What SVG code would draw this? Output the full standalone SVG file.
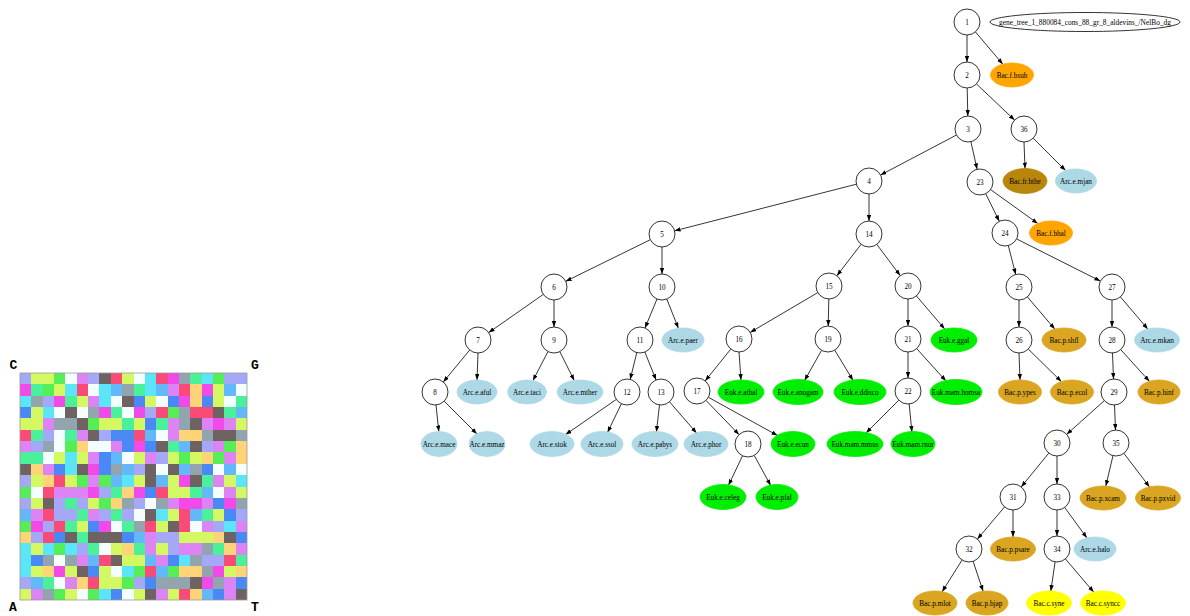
<svg xmlns="http://www.w3.org/2000/svg" width="1190" height="616" viewBox="0 0 1190 616">
<style>
.L{fill:#a4a8f6}.Y{fill:#d4f862}.G{fill:#56ee56}.W{fill:#f4fefe}.V{fill:#dc84f4}.D{fill:#6e6262}.R{fill:#f94a78}.C{fill:#5ae6f8}.M{fill:#f24ae8}.S{fill:#92a4ae}.N{fill:#4af09a}.B{fill:#62b8f8}.O{fill:#ffd478}.U{fill:#4a88f6}
#grid rect{shape-rendering:crispEdges}
.corner{font-family:"Liberation Mono",monospace;font-weight:bold;font-size:13px;text-anchor:middle;fill:#000}
.nd circle{fill:#fff;stroke:#000;stroke-width:0.8}
.lf ellipse{stroke-width:0.8}
.arc{fill:#add8e6;stroke:#add8e6}
.euk{fill:#00ee00;stroke:#00ee00}
.bf{fill:#ffa500;stroke:#ffa500}
.bfr{fill:#b8860b;stroke:#b8860b}
.bp{fill:#daa520;stroke:#daa520}
.bc{fill:#ffff00;stroke:#ffff00}
.t{font-family:"Liberation Serif",serif;font-size:7.2px;text-anchor:middle;fill:#000}
#edges line{stroke:#000;stroke-width:0.8;marker-end:url(#ah)}
</style>
<defs>
<marker id="ah" markerUnits="userSpaceOnUse" markerWidth="6" markerHeight="5" refX="6" refY="2.2" orient="auto"><path d="M0,0 L6,2.2 L0,4.4 z" fill="#000"/></marker>
</defs>
<rect width="1190" height="616" fill="#fff"/>

<g id="grid" transform="translate(20,373) scale(11.35)">
<g transform="translate(0,0)"><rect x="0" width="1.05" height="1.05" class="L"/><rect x="1" width="2.05" height="1.05" class="Y"/><rect x="3" width="1.05" height="1.05" class="G"/><rect x="4" width="1.05" height="1.05" class="W"/><rect x="5" width="1.05" height="1.05" class="V"/><rect x="6" width="1.05" height="1.05" class="L"/><rect x="7" width="1.05" height="1.05" class="D"/><rect x="8" width="1.05" height="1.05" class="R"/><rect x="9" width="1.05" height="1.05" class="Y"/><rect x="10" width="1.05" height="1.05" class="W"/><rect x="11" width="1.05" height="1.05" class="C"/><rect x="12" width="1.05" height="1.05" class="R"/><rect x="13" width="1.05" height="1.05" class="M"/><rect x="14" width="1.05" height="1.05" class="S"/><rect x="15" width="1.05" height="1.05" class="N"/><rect x="16" width="1.05" height="1.05" class="C"/><rect x="17" width="1.05" height="1.05" class="G"/><rect x="18" width="2" height="1.05" class="L"/></g>
<g transform="translate(0,1)"><rect x="0" width="1.05" height="1.05" class="M"/><rect x="1" width="1.05" height="1.05" class="N"/><rect x="2" width="1.05" height="1.05" class="G"/><rect x="3" width="1.05" height="1.05" class="Y"/><rect x="4" width="1.05" height="1.05" class="C"/><rect x="5" width="1.05" height="1.05" class="R"/><rect x="6" width="1.05" height="1.05" class="W"/><rect x="7" width="1.05" height="1.05" class="C"/><rect x="8" width="1.05" height="1.05" class="B"/><rect x="9" width="1.05" height="1.05" class="S"/><rect x="10" width="1.05" height="1.05" class="N"/><rect x="11" width="1.05" height="1.05" class="C"/><rect x="12" width="1.05" height="1.05" class="B"/><rect x="13" width="1.05" height="1.05" class="V"/><rect x="14" width="1.05" height="1.05" class="R"/><rect x="15" width="1.05" height="1.05" class="O"/><rect x="16" width="1.05" height="1.05" class="M"/><rect x="17" width="1.05" height="1.05" class="Y"/><rect x="18" width="1.05" height="1.05" class="B"/><rect x="19" width="1" height="1.05" class="W"/></g>
<g transform="translate(0,2)"><rect x="0" width="1.05" height="1.05" class="C"/><rect x="1" width="1.05" height="1.05" class="S"/><rect x="2" width="1.05" height="1.05" class="L"/><rect x="3" width="1.05" height="1.05" class="M"/><rect x="4" width="1.05" height="1.05" class="N"/><rect x="5" width="1.05" height="1.05" class="Y"/><rect x="6" width="1.05" height="1.05" class="V"/><rect x="7" width="1.05" height="1.05" class="C"/><rect x="8" width="1.05" height="1.05" class="W"/><rect x="9" width="1.05" height="1.05" class="D"/><rect x="10" width="1.05" height="1.05" class="U"/><rect x="11" width="1.05" height="1.05" class="Y"/><rect x="12" width="1.05" height="1.05" class="W"/><rect x="13" width="1.05" height="1.05" class="U"/><rect x="14" width="1.05" height="1.05" class="M"/><rect x="15" width="1.05" height="1.05" class="O"/><rect x="16" width="1.05" height="1.05" class="U"/><rect x="17" width="1.05" height="1.05" class="Y"/><rect x="18" width="1.05" height="1.05" class="W"/><rect x="19" width="1" height="1.05" class="N"/></g>
<g transform="translate(0,3)"><rect x="0" width="1.05" height="1.05" class="U"/><rect x="1" width="1.05" height="1.05" class="Y"/><rect x="2" width="1.05" height="1.05" class="C"/><rect x="3" width="1.05" height="1.05" class="W"/><rect x="4" width="1.05" height="1.05" class="D"/><rect x="5" width="1.05" height="1.05" class="W"/><rect x="6" width="1.05" height="1.05" class="S"/><rect x="7" width="1.05" height="1.05" class="M"/><rect x="8" width="1.05" height="1.05" class="N"/><rect x="9" width="1.05" height="1.05" class="W"/><rect x="10" width="1.05" height="1.05" class="M"/><rect x="11" width="1.05" height="1.05" class="L"/><rect x="12" width="1.05" height="1.05" class="R"/><rect x="13" width="1.05" height="1.05" class="G"/><rect x="14" width="1.05" height="1.05" class="S"/><rect x="15" width="2.05" height="1.05" class="R"/><rect x="17" width="1.05" height="1.05" class="D"/><rect x="18" width="1.05" height="1.05" class="N"/><rect x="19" width="1" height="1.05" class="B"/></g>
<g transform="translate(0,4)"><rect x="0" width="2.05" height="1.05" class="Y"/><rect x="2" width="1.05" height="1.05" class="V"/><rect x="3" width="2.05" height="1.05" class="S"/><rect x="5" width="1.05" height="1.05" class="D"/><rect x="6" width="1.05" height="1.05" class="G"/><rect x="7" width="2.05" height="1.05" class="Y"/><rect x="9" width="1.05" height="1.05" class="N"/><rect x="10" width="1.05" height="1.05" class="Y"/><rect x="11" width="1.05" height="1.05" class="U"/><rect x="12" width="1.05" height="1.05" class="N"/><rect x="13" width="1.05" height="1.05" class="V"/><rect x="14" width="1.05" height="1.05" class="S"/><rect x="15" width="1.05" height="1.05" class="D"/><rect x="16" width="1.05" height="1.05" class="V"/><rect x="17" width="1.05" height="1.05" class="M"/><rect x="18" width="1.05" height="1.05" class="V"/><rect x="19" width="1" height="1.05" class="Y"/></g>
<g transform="translate(0,5)"><rect x="0" width="1.05" height="1.05" class="R"/><rect x="1" width="1.05" height="1.05" class="N"/><rect x="2" width="1.05" height="1.05" class="L"/><rect x="3" width="1.05" height="1.05" class="W"/><rect x="4" width="1.05" height="1.05" class="N"/><rect x="5" width="1.05" height="1.05" class="V"/><rect x="6" width="1.05" height="1.05" class="D"/><rect x="7" width="1.05" height="1.05" class="L"/><rect x="8" width="2.05" height="1.05" class="U"/><rect x="10" width="1.05" height="1.05" class="R"/><rect x="11" width="1.05" height="1.05" class="B"/><rect x="12" width="1.05" height="1.05" class="W"/><rect x="13" width="1.05" height="1.05" class="V"/><rect x="14" width="2.05" height="1.05" class="O"/><rect x="16" width="1.05" height="1.05" class="S"/><rect x="17" width="2.05" height="1.05" class="D"/><rect x="19" width="1" height="1.05" class="S"/></g>
<g transform="translate(0,6)"><rect x="0" width="1.05" height="1.05" class="V"/><rect x="1" width="1.05" height="1.05" class="L"/><rect x="2" width="1.05" height="1.05" class="S"/><rect x="3" width="1.05" height="1.05" class="W"/><rect x="4" width="1.05" height="1.05" class="G"/><rect x="5" width="1.05" height="1.05" class="O"/><rect x="6" width="2.05" height="1.05" class="W"/><rect x="8" width="1.05" height="1.05" class="V"/><rect x="9" width="1.05" height="1.05" class="U"/><rect x="10" width="1.05" height="1.05" class="M"/><rect x="11" width="1.05" height="1.05" class="U"/><rect x="12" width="1.05" height="1.05" class="D"/><rect x="13" width="1.05" height="1.05" class="N"/><rect x="14" width="1.05" height="1.05" class="B"/><rect x="15" width="1.05" height="1.05" class="D"/><rect x="16" width="1.05" height="1.05" class="L"/><rect x="17" width="1.05" height="1.05" class="V"/><rect x="18" width="1.05" height="1.05" class="G"/><rect x="19" width="1" height="1.05" class="O"/></g>
<g transform="translate(0,7)"><rect x="0" width="2.05" height="1.05" class="N"/><rect x="2" width="1.05" height="1.05" class="W"/><rect x="3" width="1.05" height="1.05" class="Y"/><rect x="4" width="1.05" height="1.05" class="C"/><rect x="5" width="1.05" height="1.05" class="Y"/><rect x="6" width="1.05" height="1.05" class="V"/><rect x="7" width="1.05" height="1.05" class="U"/><rect x="8" width="1.05" height="1.05" class="B"/><rect x="9" width="1.05" height="1.05" class="W"/><rect x="10" width="1.05" height="1.05" class="Y"/><rect x="11" width="1.05" height="1.05" class="V"/><rect x="12" width="1.05" height="1.05" class="L"/><rect x="13" width="1.05" height="1.05" class="Y"/><rect x="14" width="1.05" height="1.05" class="G"/><rect x="15" width="1.05" height="1.05" class="Y"/><rect x="16" width="1.05" height="1.05" class="O"/><rect x="17" width="1.05" height="1.05" class="G"/><rect x="18" width="1.05" height="1.05" class="V"/><rect x="19" width="1" height="1.05" class="O"/></g>
<g transform="translate(0,8)"><rect x="0" width="1.05" height="1.05" class="D"/><rect x="1" width="1.05" height="1.05" class="O"/><rect x="2" width="1.05" height="1.05" class="V"/><rect x="3" width="1.05" height="1.05" class="U"/><rect x="4" width="1.05" height="1.05" class="C"/><rect x="5" width="1.05" height="1.05" class="D"/><rect x="6" width="1.05" height="1.05" class="M"/><rect x="7" width="1.05" height="1.05" class="U"/><rect x="8" width="1.05" height="1.05" class="S"/><rect x="9" width="1.05" height="1.05" class="B"/><rect x="10" width="1.05" height="1.05" class="L"/><rect x="11" width="1.05" height="1.05" class="D"/><rect x="12" width="1.05" height="1.05" class="W"/><rect x="13" width="1.05" height="1.05" class="D"/><rect x="14" width="1.05" height="1.05" class="B"/><rect x="15" width="1.05" height="1.05" class="S"/><rect x="16" width="1.05" height="1.05" class="U"/><rect x="17" width="1.05" height="1.05" class="W"/><rect x="18" width="1.05" height="1.05" class="B"/><rect x="19" width="1" height="1.05" class="W"/></g>
<g transform="translate(0,9)"><rect x="0" width="1.05" height="1.05" class="L"/><rect x="1" width="1.05" height="1.05" class="Y"/><rect x="2" width="1.05" height="1.05" class="O"/><rect x="3" width="1.05" height="1.05" class="R"/><rect x="4" width="1.05" height="1.05" class="Y"/><rect x="5" width="1.05" height="1.05" class="G"/><rect x="6" width="1.05" height="1.05" class="V"/><rect x="7" width="1.05" height="1.05" class="G"/><rect x="8" width="1.05" height="1.05" class="B"/><rect x="9" width="1.05" height="1.05" class="C"/><rect x="10" width="1.05" height="1.05" class="Y"/><rect x="11" width="1.05" height="1.05" class="D"/><rect x="12" width="1.05" height="1.05" class="B"/><rect x="13" width="1.05" height="1.05" class="Y"/><rect x="14" width="1.05" height="1.05" class="M"/><rect x="15" width="1.05" height="1.05" class="D"/><rect x="16" width="1.05" height="1.05" class="N"/><rect x="17" width="1.05" height="1.05" class="V"/><rect x="18" width="1.05" height="1.05" class="Y"/><rect x="19" width="1" height="1.05" class="C"/></g>
<g transform="translate(0,10)"><rect x="0" width="1.05" height="1.05" class="G"/><rect x="1" width="1.05" height="1.05" class="W"/><rect x="2" width="1.05" height="1.05" class="R"/><rect x="3" width="3.05" height="1.05" class="V"/><rect x="6" width="1.05" height="1.05" class="M"/><rect x="7" width="1.05" height="1.05" class="L"/><rect x="8" width="1.05" height="1.05" class="N"/><rect x="9" width="1.05" height="1.05" class="O"/><rect x="10" width="1.05" height="1.05" class="M"/><rect x="11" width="1.05" height="1.05" class="U"/><rect x="12" width="1.05" height="1.05" class="R"/><rect x="13" width="2.05" height="1.05" class="Y"/><rect x="15" width="1.05" height="1.05" class="N"/><rect x="16" width="1.05" height="1.05" class="B"/><rect x="17" width="1.05" height="1.05" class="W"/><rect x="18" width="1.05" height="1.05" class="V"/><rect x="19" width="1" height="1.05" class="Y"/></g>
<g transform="translate(0,11)"><rect x="0" width="1.05" height="1.05" class="L"/><rect x="1" width="1.05" height="1.05" class="Y"/><rect x="2" width="1.05" height="1.05" class="D"/><rect x="3" width="1.05" height="1.05" class="L"/><rect x="4" width="1.05" height="1.05" class="N"/><rect x="5" width="1.05" height="1.05" class="L"/><rect x="6" width="1.05" height="1.05" class="Y"/><rect x="7" width="1.05" height="1.05" class="G"/><rect x="8" width="1.05" height="1.05" class="O"/><rect x="9" width="1.05" height="1.05" class="S"/><rect x="10" width="1.05" height="1.05" class="L"/><rect x="11" width="1.05" height="1.05" class="W"/><rect x="12" width="1.05" height="1.05" class="S"/><rect x="13" width="1.05" height="1.05" class="V"/><rect x="14" width="2.05" height="1.05" class="M"/><rect x="16" width="1.05" height="1.05" class="V"/><rect x="17" width="1.05" height="1.05" class="U"/><rect x="18" width="1.05" height="1.05" class="M"/><rect x="19" width="1" height="1.05" class="S"/></g>
<g transform="translate(0,12)"><rect x="0" width="1.05" height="1.05" class="B"/><rect x="1" width="1.05" height="1.05" class="V"/><rect x="2" width="1.05" height="1.05" class="R"/><rect x="3" width="2.05" height="1.05" class="L"/><rect x="5" width="1.05" height="1.05" class="N"/><rect x="6" width="1.05" height="1.05" class="V"/><rect x="7" width="1.05" height="1.05" class="L"/><rect x="8" width="1.05" height="1.05" class="N"/><rect x="9" width="1.05" height="1.05" class="L"/><rect x="10" width="1.05" height="1.05" class="W"/><rect x="11" width="1.05" height="1.05" class="D"/><rect x="12" width="1.05" height="1.05" class="C"/><rect x="13" width="1.05" height="1.05" class="Y"/><rect x="14" width="1.05" height="1.05" class="R"/><rect x="15" width="1.05" height="1.05" class="B"/><rect x="16" width="1.05" height="1.05" class="N"/><rect x="17" width="1.05" height="1.05" class="Y"/><rect x="18" width="1.05" height="1.05" class="U"/><rect x="19" width="1" height="1.05" class="L"/></g>
<g transform="translate(0,13)"><rect x="0" width="1.05" height="1.05" class="G"/><rect x="1" width="1.05" height="1.05" class="M"/><rect x="2" width="1.05" height="1.05" class="L"/><rect x="3" width="1.05" height="1.05" class="R"/><rect x="4" width="1.05" height="1.05" class="N"/><rect x="5" width="1.05" height="1.05" class="Y"/><rect x="6" width="1.05" height="1.05" class="U"/><rect x="7" width="1.05" height="1.05" class="M"/><rect x="8" width="1.05" height="1.05" class="W"/><rect x="9" width="1.05" height="1.05" class="N"/><rect x="10" width="1.05" height="1.05" class="S"/><rect x="11" width="1.05" height="1.05" class="R"/><rect x="12" width="1.05" height="1.05" class="Y"/><rect x="13" width="1.05" height="1.05" class="D"/><rect x="14" width="1.05" height="1.05" class="R"/><rect x="15" width="1.05" height="1.05" class="W"/><rect x="16" width="1.05" height="1.05" class="V"/><rect x="17" width="1.05" height="1.05" class="L"/><rect x="18" width="1.05" height="1.05" class="C"/><rect x="19" width="1" height="1.05" class="V"/></g>
<g transform="translate(0,14)"><rect x="0" width="1.05" height="1.05" class="O"/><rect x="1" width="1.05" height="1.05" class="L"/><rect x="2" width="1.05" height="1.05" class="R"/><rect x="3" width="1.05" height="1.05" class="U"/><rect x="4" width="1.05" height="1.05" class="D"/><rect x="5" width="1.05" height="1.05" class="N"/><rect x="6" width="3.05" height="1.05" class="D"/><rect x="9" width="1.05" height="1.05" class="U"/><rect x="10" width="1.05" height="1.05" class="B"/><rect x="11" width="1.05" height="1.05" class="V"/><rect x="12" width="2.05" height="1.05" class="L"/><rect x="14" width="3.05" height="1.05" class="Y"/><rect x="17" width="1.05" height="1.05" class="O"/><rect x="18" width="1.05" height="1.05" class="D"/><rect x="19" width="1" height="1.05" class="U"/></g>
<g transform="translate(0,15)"><rect x="0" width="1.05" height="1.05" class="C"/><rect x="1" width="1.05" height="1.05" class="Y"/><rect x="2" width="1.05" height="1.05" class="C"/><rect x="3" width="1.05" height="1.05" class="G"/><rect x="4" width="1.05" height="1.05" class="C"/><rect x="5" width="1.05" height="1.05" class="L"/><rect x="6" width="1.05" height="1.05" class="N"/><rect x="7" width="1.05" height="1.05" class="W"/><rect x="8" width="1.05" height="1.05" class="Y"/><rect x="9" width="1.05" height="1.05" class="O"/><rect x="10" width="1.05" height="1.05" class="N"/><rect x="11" width="1.05" height="1.05" class="V"/><rect x="12" width="1.05" height="1.05" class="Y"/><rect x="13" width="1.05" height="1.05" class="L"/><rect x="14" width="2.05" height="1.05" class="V"/><rect x="16" width="1.05" height="1.05" class="S"/><rect x="17" width="1.05" height="1.05" class="N"/><rect x="18" width="1.05" height="1.05" class="O"/><rect x="19" width="1" height="1.05" class="V"/></g>
<g transform="translate(0,16)"><rect x="0" width="1.05" height="1.05" class="C"/><rect x="1" width="1.05" height="1.05" class="U"/><rect x="2" width="1.05" height="1.05" class="S"/><rect x="3" width="1.05" height="1.05" class="W"/><rect x="4" width="1.05" height="1.05" class="S"/><rect x="5" width="1.05" height="1.05" class="V"/><rect x="6" width="1.05" height="1.05" class="B"/><rect x="7" width="1.05" height="1.05" class="R"/><rect x="8" width="1.05" height="1.05" class="D"/><rect x="9" width="2.05" height="1.05" class="Y"/><rect x="11" width="1.05" height="1.05" class="B"/><rect x="12" width="1.05" height="1.05" class="V"/><rect x="13" width="1.05" height="1.05" class="U"/><rect x="14" width="1.05" height="1.05" class="C"/><rect x="15" width="1.05" height="1.05" class="S"/><rect x="16" width="2.05" height="1.05" class="L"/><rect x="18" width="1.05" height="1.05" class="R"/><rect x="19" width="1" height="1.05" class="N"/></g>
<g transform="translate(0,17)"><rect x="0" width="1.05" height="1.05" class="C"/><rect x="1" width="1.05" height="1.05" class="Y"/><rect x="2" width="1.05" height="1.05" class="O"/><rect x="3" width="1.05" height="1.05" class="M"/><rect x="4" width="1.05" height="1.05" class="Y"/><rect x="5" width="1.05" height="1.05" class="D"/><rect x="6" width="1.05" height="1.05" class="U"/><rect x="7" width="1.05" height="1.05" class="Y"/><rect x="8" width="1.05" height="1.05" class="W"/><rect x="9" width="1.05" height="1.05" class="C"/><rect x="10" width="1.05" height="1.05" class="G"/><rect x="11" width="1.05" height="1.05" class="R"/><rect x="12" width="1.05" height="1.05" class="B"/><rect x="13" width="1.05" height="1.05" class="G"/><rect x="14" width="2.05" height="1.05" class="O"/><rect x="16" width="1.05" height="1.05" class="S"/><rect x="17" width="1.05" height="1.05" class="M"/><rect x="18" width="1.05" height="1.05" class="Y"/><rect x="19" width="1" height="1.05" class="O"/></g>
<g transform="translate(0,18)"><rect x="0" width="1.05" height="1.05" class="L"/><rect x="1" width="1.05" height="1.05" class="B"/><rect x="2" width="1.05" height="1.05" class="N"/><rect x="3" width="1.05" height="1.05" class="W"/><rect x="4" width="1.05" height="1.05" class="V"/><rect x="5" width="1.05" height="1.05" class="O"/><rect x="6" width="1.05" height="1.05" class="R"/><rect x="7" width="2.05" height="1.05" class="Y"/><rect x="9" width="1.05" height="1.05" class="G"/><rect x="10" width="1.05" height="1.05" class="L"/><rect x="11" width="1.05" height="1.05" class="U"/><rect x="12" width="3.05" height="1.05" class="S"/><rect x="15" width="1.05" height="1.05" class="D"/><rect x="16" width="1.05" height="1.05" class="M"/><rect x="17" width="1.05" height="1.05" class="S"/><rect x="18" width="1.05" height="1.05" class="V"/><rect x="19" width="1" height="1.05" class="U"/></g>
<g transform="translate(0,19)"><rect x="0" width="1.05" height="1" class="Y"/><rect x="1" width="1.05" height="1" class="V"/><rect x="2" width="1.05" height="1" class="S"/><rect x="3" width="1.05" height="1" class="G"/><rect x="4" width="1.05" height="1" class="Y"/><rect x="5" width="1.05" height="1" class="W"/><rect x="6" width="1.05" height="1" class="G"/><rect x="7" width="1.05" height="1" class="C"/><rect x="8" width="1.05" height="1" class="U"/><rect x="9" width="1.05" height="1" class="W"/><rect x="10" width="1.05" height="1" class="Y"/><rect x="11" width="1.05" height="1" class="D"/><rect x="12" width="1.05" height="1" class="V"/><rect x="13" width="1.05" height="1" class="Y"/><rect x="14" width="1.05" height="1" class="R"/><rect x="15" width="1.05" height="1" class="O"/><rect x="16" width="1.05" height="1" class="B"/><rect x="17" width="1.05" height="1" class="U"/><rect x="18" width="1.05" height="1" class="V"/><rect x="19" width="1" height="1" class="D"/></g>
</g>
<rect x="20" y="373" width="227" height="227" fill="none" stroke="#9a9a9a" stroke-width="0.8"/>
<g id="corners">
<text class="corner" x="13.5" y="369">C</text>
<text class="corner" x="255" y="369">G</text>
<text class="corner" x="13" y="611">A</text>
<text class="corner" x="255" y="611">T</text>
</g>

<g id="edges">
<line x1="967" y1="35" x2="967" y2="62"/>
<line x1="975.4" y1="31.9" x2="1002.8" y2="64.2"/>
<line x1="967.2" y1="88" x2="967.8" y2="116"/>
<line x1="976.4" y1="83.9" x2="1014.6" y2="120.1"/>
<line x1="956.5" y1="135" x2="880.5" y2="175"/>
<line x1="970.9" y1="141.7" x2="977.1" y2="169.3"/>
<line x1="1024" y1="142" x2="1025" y2="168.5"/>
<line x1="1033.2" y1="138.2" x2="1065.6" y2="170.6"/>
<line x1="856.4" y1="184.2" x2="674.6" y2="230.8"/>
<line x1="869" y1="194" x2="869" y2="221"/>
<line x1="985.7" y1="193.7" x2="999.3" y2="221.3"/>
<line x1="990.6" y1="189.6" x2="1037.8" y2="223.5"/>
<line x1="650.3" y1="239.7" x2="565.7" y2="281.3"/>
<line x1="662" y1="247" x2="662" y2="274"/>
<line x1="861.1" y1="244.3" x2="836.9" y2="275.7"/>
<line x1="876.8" y1="244.4" x2="900.2" y2="275.6"/>
<line x1="1008.3" y1="245.6" x2="1015.7" y2="274.4"/>
<line x1="1016.6" y1="238.9" x2="1100.4" y2="281.1"/>
<line x1="543.3" y1="294.4" x2="488.7" y2="332.6"/>
<line x1="554" y1="300" x2="554" y2="327"/>
<line x1="657" y1="299" x2="645" y2="328"/>
<line x1="666.8" y1="299.1" x2="678.4" y2="328.3"/>
<line x1="817.8" y1="292.6" x2="750.2" y2="332.4"/>
<line x1="828.8" y1="299" x2="828.2" y2="326"/>
<line x1="908" y1="299" x2="908" y2="326"/>
<line x1="916.4" y1="295.9" x2="944.7" y2="329"/>
<line x1="1019" y1="300" x2="1019" y2="327"/>
<line x1="1027.4" y1="296.9" x2="1054.8" y2="329.1"/>
<line x1="1112" y1="300" x2="1112" y2="327"/>
<line x1="1120.4" y1="296.9" x2="1147.8" y2="329.1"/>
<line x1="469.7" y1="350" x2="443.3" y2="382"/>
<line x1="478" y1="353" x2="477" y2="380"/>
<line x1="548" y1="351.5" x2="532.9" y2="380.6"/>
<line x1="559.8" y1="351.6" x2="574.2" y2="380.4"/>
<line x1="636.8" y1="352.6" x2="630.2" y2="379.4"/>
<line x1="644.9" y1="352.1" x2="656.1" y2="380"/>
<line x1="730.8" y1="349.1" x2="705.2" y2="380.9"/>
<line x1="739" y1="352" x2="741" y2="380"/>
<line x1="821.6" y1="350.3" x2="804.6" y2="380.4"/>
<line x1="834.7" y1="350.1" x2="853" y2="380.4"/>
<line x1="908" y1="352" x2="908" y2="378"/>
<line x1="916.7" y1="348.6" x2="946" y2="381"/>
<line x1="1019" y1="353" x2="1020" y2="380"/>
<line x1="1028.3" y1="349.1" x2="1061.4" y2="381.6"/>
<line x1="1112.5" y1="353" x2="1113.5" y2="379"/>
<line x1="1120.7" y1="349.6" x2="1149.4" y2="381.3"/>
<line x1="436" y1="405" x2="438.8" y2="431.5"/>
<line x1="444.2" y1="401.2" x2="477" y2="434"/>
<line x1="616.3" y1="399.4" x2="565.6" y2="434.6"/>
<line x1="621.4" y1="403.7" x2="607.5" y2="432.5"/>
<line x1="659.5" y1="405" x2="656.4" y2="432"/>
<line x1="669.5" y1="401.8" x2="696.6" y2="433.1"/>
<line x1="706" y1="400.4" x2="739" y2="434.6"/>
<line x1="708.4" y1="397.3" x2="777.5" y2="435.5"/>
<line x1="898.8" y1="400.2" x2="866" y2="433"/>
<line x1="909.2" y1="404" x2="911.9" y2="432"/>
<line x1="1104.3" y1="400.7" x2="1066.7" y2="434.3"/>
<line x1="1114.5" y1="405" x2="1115.5" y2="430"/>
<line x1="742.5" y1="455.8" x2="728.5" y2="485.3"/>
<line x1="754.2" y1="455.4" x2="770.7" y2="485.5"/>
<line x1="1048.8" y1="453.1" x2="1021.2" y2="486.9"/>
<line x1="1057" y1="456" x2="1057" y2="484"/>
<line x1="1113" y1="455.6" x2="1105.8" y2="486.1"/>
<line x1="1123.9" y1="453.3" x2="1149.5" y2="486.9"/>
<line x1="1004.6" y1="506.9" x2="977.4" y2="539.1"/>
<line x1="1013" y1="510" x2="1013" y2="537"/>
<line x1="1057" y1="510" x2="1057" y2="536"/>
<line x1="1064.7" y1="507.5" x2="1086.9" y2="537.9"/>
<line x1="962.1" y1="560" x2="942.1" y2="591.7"/>
<line x1="973.1" y1="561.3" x2="983.1" y2="591.2"/>
<line x1="1055.1" y1="561.9" x2="1050.8" y2="591.1"/>
<line x1="1065.4" y1="558.9" x2="1093.7" y2="592.1"/>
</g>

<g id="graph-label"><ellipse cx="1085" cy="22" rx="95" ry="9.5" fill="#fff" stroke="#000" stroke-width="0.8"/><text class="t" x="1085" y="24.5" textLength="172" lengthAdjust="spacingAndGlyphs">gene_tree_1_880084_cons_88_gr_8_aldevins_/NelBo_dg</text></g>

<g id="n1" class="nd"><circle cx="967" cy="22" r="13"/><text class="t" x="967" y="24.5">1</text></g>
<g id="n2" class="nd"><circle cx="967" cy="75" r="13"/><text class="t" x="967" y="77.5">2</text></g>
<g id="n3" class="nd"><circle cx="968" cy="129" r="13"/><text class="t" x="968" y="131.5">3</text></g>
<g id="n36" class="nd"><circle cx="1024" cy="129" r="13"/><text class="t" x="1024" y="131.5">36</text></g>
<g id="n4" class="nd"><circle cx="869" cy="181" r="13"/><text class="t" x="869" y="183.5">4</text></g>
<g id="n23" class="nd"><circle cx="980" cy="182" r="13"/><text class="t" x="980" y="184.5">23</text></g>
<g id="n5" class="nd"><circle cx="662" cy="234" r="13"/><text class="t" x="662" y="236.5">5</text></g>
<g id="n14" class="nd"><circle cx="869" cy="234" r="13"/><text class="t" x="869" y="236.5">14</text></g>
<g id="n24" class="nd"><circle cx="1005" cy="233" r="13"/><text class="t" x="1005" y="235.5">24</text></g>
<g id="n6" class="nd"><circle cx="554" cy="287" r="13"/><text class="t" x="554" y="289.5">6</text></g>
<g id="n10" class="nd"><circle cx="662" cy="287" r="13"/><text class="t" x="662" y="289.5">10</text></g>
<g id="n15" class="nd"><circle cx="829" cy="286" r="13"/><text class="t" x="829" y="288.5">15</text></g>
<g id="n20" class="nd"><circle cx="908" cy="286" r="13"/><text class="t" x="908" y="288.5">20</text></g>
<g id="n25" class="nd"><circle cx="1019" cy="287" r="13"/><text class="t" x="1019" y="289.5">25</text></g>
<g id="n27" class="nd"><circle cx="1112" cy="287" r="13"/><text class="t" x="1112" y="289.5">27</text></g>
<g id="n7" class="nd"><circle cx="478" cy="340" r="13"/><text class="t" x="478" y="342.5">7</text></g>
<g id="n9" class="nd"><circle cx="554" cy="340" r="13"/><text class="t" x="554" y="342.5">9</text></g>
<g id="n11" class="nd"><circle cx="640" cy="340" r="13"/><text class="t" x="640" y="342.5">11</text></g>
<g id="n16" class="nd"><circle cx="739" cy="339" r="13"/><text class="t" x="739" y="341.5">16</text></g>
<g id="n19" class="nd"><circle cx="828" cy="339" r="13"/><text class="t" x="828" y="341.5">19</text></g>
<g id="n21" class="nd"><circle cx="908" cy="339" r="13"/><text class="t" x="908" y="341.5">21</text></g>
<g id="n26" class="nd"><circle cx="1019" cy="340" r="13"/><text class="t" x="1019" y="342.5">26</text></g>
<g id="n28" class="nd"><circle cx="1112" cy="340" r="13"/><text class="t" x="1112" y="342.5">28</text></g>
<g id="n8" class="nd"><circle cx="435" cy="392" r="13"/><text class="t" x="435" y="394.5">8</text></g>
<g id="n12" class="nd"><circle cx="627" cy="392" r="13"/><text class="t" x="627" y="394.5">12</text></g>
<g id="n13" class="nd"><circle cx="661" cy="392" r="13"/><text class="t" x="661" y="394.5">13</text></g>
<g id="n17" class="nd"><circle cx="697" cy="391" r="13"/><text class="t" x="697" y="393.5">17</text></g>
<g id="n22" class="nd"><circle cx="908" cy="391" r="13"/><text class="t" x="908" y="393.5">22</text></g>
<g id="n29" class="nd"><circle cx="1114" cy="392" r="13"/><text class="t" x="1114" y="394.5">29</text></g>
<g id="n18" class="nd"><circle cx="748" cy="444" r="13"/><text class="t" x="748" y="446.5">18</text></g>
<g id="n30" class="nd"><circle cx="1057" cy="443" r="13"/><text class="t" x="1057" y="445.5">30</text></g>
<g id="n35" class="nd"><circle cx="1116" cy="443" r="13"/><text class="t" x="1116" y="445.5">35</text></g>
<g id="n31" class="nd"><circle cx="1013" cy="497" r="13"/><text class="t" x="1013" y="499.5">31</text></g>
<g id="n33" class="nd"><circle cx="1057" cy="497" r="13"/><text class="t" x="1057" y="499.5">33</text></g>
<g id="n32" class="nd"><circle cx="969" cy="549" r="13"/><text class="t" x="969" y="551.5">32</text></g>
<g id="n34" class="nd"><circle cx="1057" cy="549" r="13"/><text class="t" x="1057" y="551.5">34</text></g>

<g id="leaf-bsub" class="lf"><ellipse class="bf" cx="1012" cy="75" rx="21.5" ry="12"/><text class="t" x="1012" y="77.5">Bac.f.bsub</text></g>
<g id="leaf-bthe" class="lf"><ellipse class="bfr" cx="1025" cy="181" rx="22" ry="12.5"/><text class="t" x="1025" y="183.5">Bac.fr.bthe</text></g>
<g id="leaf-mjan" class="lf"><ellipse class="arc" cx="1076" cy="181" rx="20.5" ry="12"/><text class="t" x="1076" y="183.5">Arc.e.mjan</text></g>
<g id="leaf-bhal" class="lf"><ellipse class="bf" cx="1051" cy="233" rx="21.5" ry="12"/><text class="t" x="1051" y="235.5">Bac.f.bhal</text></g>
<g id="leaf-paer" class="lf"><ellipse class="arc" cx="683" cy="340" rx="21" ry="12"/><text class="t" x="683" y="342.5">Arc.e.paer</text></g>
<g id="leaf-ggal" class="lf"><ellipse class="euk" cx="954" cy="340" rx="23" ry="12"/><text class="t" x="954" y="342.5">Euk.e.ggal</text></g>
<g id="leaf-shfl" class="lf"><ellipse class="bp" cx="1064" cy="340" rx="22" ry="12"/><text class="t" x="1064" y="342.5">Bac.p.shfl</text></g>
<g id="leaf-mkan" class="lf"><ellipse class="arc" cx="1157" cy="340" rx="22.5" ry="12"/><text class="t" x="1157" y="342.5">Arc.e.mkan</text></g>
<g id="leaf-aful" class="lf"><ellipse class="arc" cx="477" cy="392" rx="20" ry="12"/><text class="t" x="477" y="394.5">Arc.e.aful</text></g>
<g id="leaf-taci" class="lf"><ellipse class="arc" cx="527" cy="392" rx="19.5" ry="12"/><text class="t" x="527" y="394.5">Arc.e.taci</text></g>
<g id="leaf-mther" class="lf"><ellipse class="arc" cx="580" cy="392" rx="23" ry="12"/><text class="t" x="580" y="394.5">Arc.e.mther</text></g>
<g id="leaf-athal" class="lf"><ellipse class="euk" cx="741" cy="392" rx="23" ry="12"/><text class="t" x="741" y="394.5">Euk.e.athal</text></g>
<g id="leaf-anogam" class="lf"><ellipse class="euk" cx="798" cy="392" rx="25" ry="12.5"/><text class="t" x="798" y="394.5">Euk.e.anogam</text></g>
<g id="leaf-ddisco" class="lf"><ellipse class="euk" cx="860" cy="392" rx="26" ry="12.5"/><text class="t" x="860" y="394.5">Euk.e.ddisco</text></g>
<g id="leaf-homsa" class="lf"><ellipse class="euk" cx="956" cy="392" rx="26" ry="12.5"/><text class="t" x="956" y="394.5">Euk.mam.homsa</text></g>
<g id="leaf-ypes" class="lf"><ellipse class="bp" cx="1020" cy="392" rx="21.5" ry="12"/><text class="t" x="1020" y="394.5">Bac.p.ypes</text></g>
<g id="leaf-ecol" class="lf"><ellipse class="bp" cx="1072" cy="392" rx="21.5" ry="12"/><text class="t" x="1072" y="394.5">Bac.p.ecol</text></g>
<g id="leaf-hinf" class="lf"><ellipse class="bp" cx="1159" cy="392" rx="21" ry="12"/><text class="t" x="1159" y="394.5">Bac.p.hinf</text></g>
<g id="leaf-mace" class="lf"><ellipse class="arc" cx="439" cy="444" rx="18" ry="12.5"/><text class="t" x="439" y="446.5">Arc.e.mace</text></g>
<g id="leaf-mmaz" class="lf"><ellipse class="arc" cx="487" cy="444" rx="18" ry="12.5"/><text class="t" x="487" y="446.5">Arc.e.mmaz</text></g>
<g id="leaf-stok" class="lf"><ellipse class="arc" cx="552" cy="444" rx="22" ry="12.5"/><text class="t" x="552" y="446.5">Arc.e.stok</text></g>
<g id="leaf-ssol" class="lf"><ellipse class="arc" cx="602" cy="444" rx="21" ry="12.5"/><text class="t" x="602" y="446.5">Arc.e.ssol</text></g>
<g id="leaf-pabys" class="lf"><ellipse class="arc" cx="655" cy="444" rx="23" ry="12.5"/><text class="t" x="655" y="446.5">Arc.e.pabys</text></g>
<g id="leaf-phor" class="lf"><ellipse class="arc" cx="706" cy="444" rx="22" ry="12.5"/><text class="t" x="706" y="446.5">Arc.e.phor</text></g>
<g id="leaf-ecun" class="lf"><ellipse class="euk" cx="793" cy="444" rx="22" ry="12.5"/><text class="t" x="793" y="446.5">Euk.e.ecun</text></g>
<g id="leaf-mmus" class="lf"><ellipse class="euk" cx="855" cy="444" rx="28" ry="12.5"/><text class="t" x="855" y="446.5">Euk.mam.mmus</text></g>
<g id="leaf-rnor" class="lf"><ellipse class="euk" cx="913" cy="444" rx="22" ry="12.5"/><text class="t" x="913" y="446.5">Euk.mam.rnor</text></g>
<g id="leaf-celeg" class="lf"><ellipse class="euk" cx="723" cy="497" rx="23" ry="12.5"/><text class="t" x="723" y="499.5">Euk.e.celeg</text></g>
<g id="leaf-pfal" class="lf"><ellipse class="euk" cx="777" cy="497" rx="21" ry="12.5"/><text class="t" x="777" y="499.5">Euk.e.pfal</text></g>
<g id="leaf-xcam" class="lf"><ellipse class="bp" cx="1103" cy="498" rx="23" ry="12"/><text class="t" x="1103" y="500.5">Bac.p.xcam</text></g>
<g id="leaf-pxvid" class="lf"><ellipse class="bp" cx="1158" cy="498" rx="22.5" ry="12"/><text class="t" x="1158" y="500.5">Bac.p.pxvid</text></g>
<g id="leaf-psare" class="lf"><ellipse class="bp" cx="1013" cy="549" rx="22.5" ry="12"/><text class="t" x="1013" y="551.5">Bac.p.psare</text></g>
<g id="leaf-halo" class="lf"><ellipse class="arc" cx="1095" cy="549" rx="21" ry="12"/><text class="t" x="1095" y="551.5">Arc.e.halo</text></g>
<g id="leaf-mlot" class="lf"><ellipse class="bp" cx="935" cy="603" rx="22" ry="12"/><text class="t" x="935" y="605.5">Bac.p.mlot</text></g>
<g id="leaf-bjap" class="lf"><ellipse class="bp" cx="987" cy="603" rx="21" ry="12"/><text class="t" x="987" y="605.5">Bac.p.bjap</text></g>
<g id="leaf-syne" class="lf"><ellipse class="bc" cx="1049" cy="603" rx="22.5" ry="12"/><text class="t" x="1049" y="605.5">Bac.c.syne</text></g>
<g id="leaf-syncc" class="lf"><ellipse class="bc" cx="1103" cy="603" rx="22.5" ry="12"/><text class="t" x="1103" y="605.5">Bac.c.syncc</text></g>
</svg>
